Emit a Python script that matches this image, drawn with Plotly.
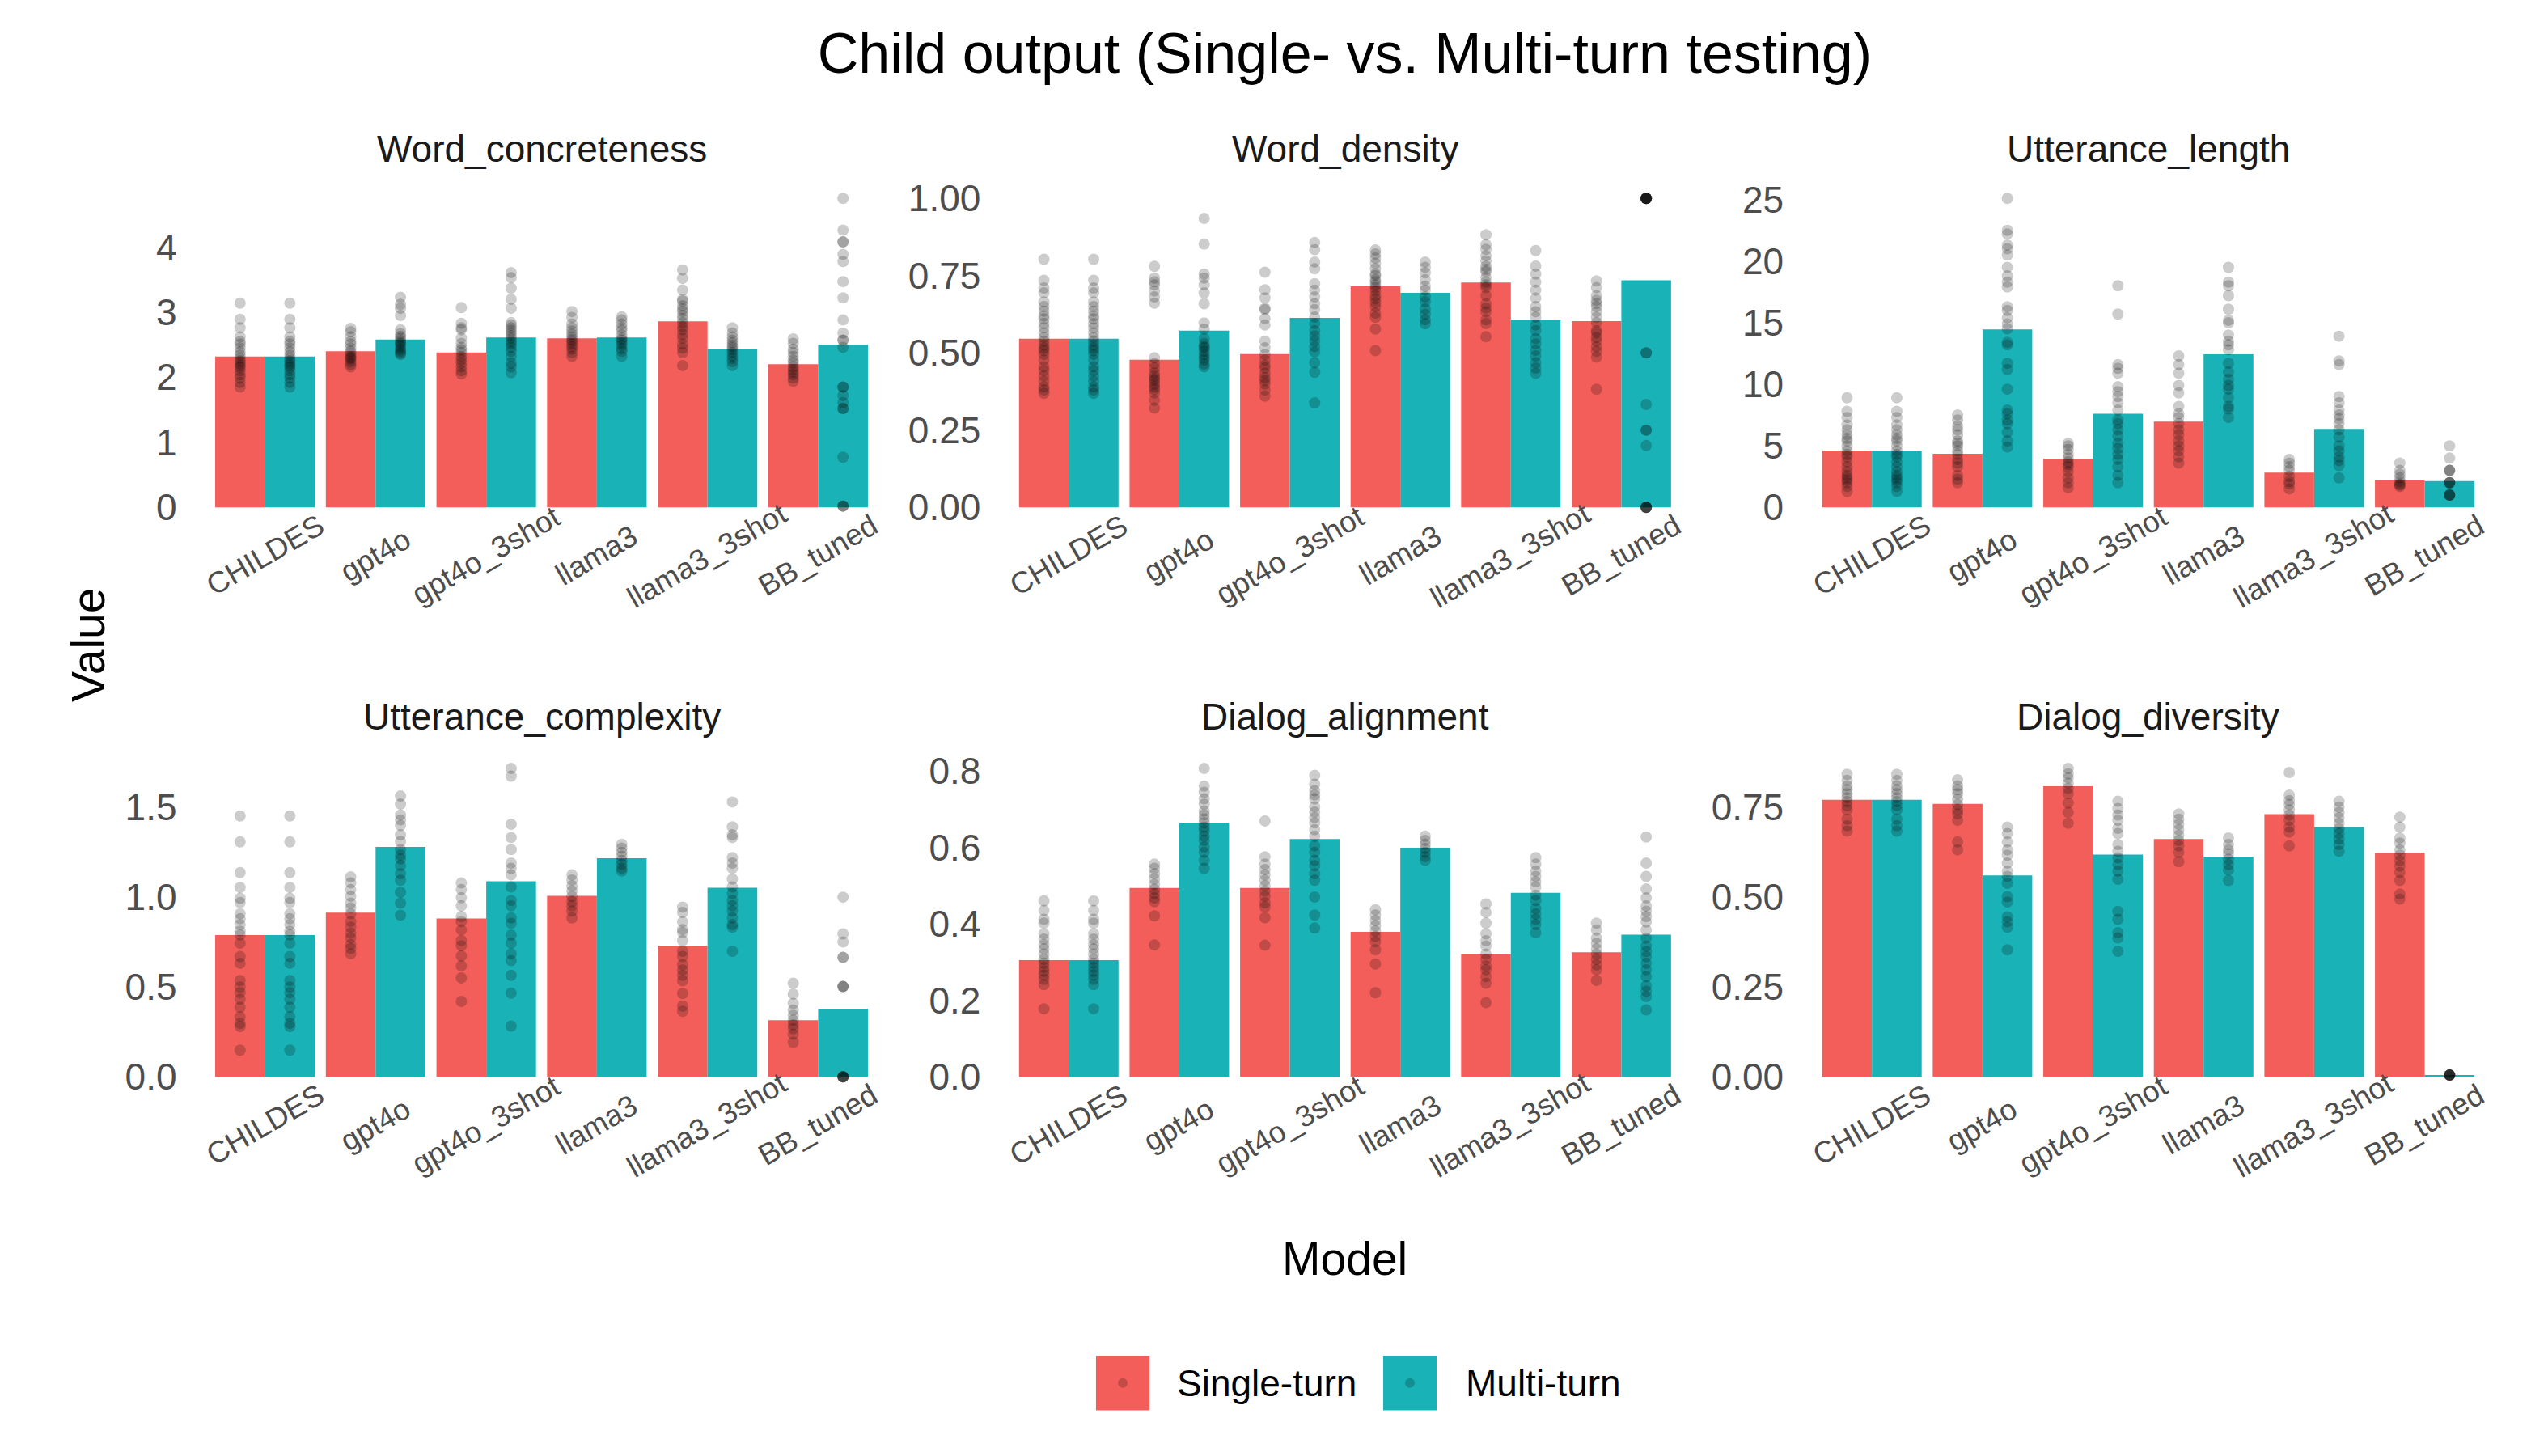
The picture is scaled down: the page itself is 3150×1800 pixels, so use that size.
import plotly.graph_objects as go

###############################################################################
# Data
###############################################################################
models = ["CHILDES", "gpt4o", "gpt4o_3shot", "llama3", "llama3_3shot", "BB_tuned"]
metrics = ["Word_concreteness", "Word_density", "Utterance_length",
           "Utterance_complexity", "Dialog_alignment", "Dialog_diversity"]
conditions = ["Single-turn", "Multi-turn"]

# bar heights (means), one value per model
wc_single = [2.32, 2.40, 2.38, 2.60, 2.86, 2.20]
wc_multi = [2.32, 2.58, 2.61, 2.61, 2.43, 2.50]
wd_single = [0.546, 0.478, 0.496, 0.715, 0.728, 0.603]
wd_multi = [0.546, 0.572, 0.613, 0.694, 0.608, 0.735]
ul_single = [4.61, 4.35, 3.96, 6.96, 2.83, 2.20]
ul_multi = [4.61, 14.46, 7.61, 12.43, 6.37, 2.13]
uc_single = [0.789, 0.914, 0.882, 1.007, 0.731, 0.315]
uc_multi = [0.789, 1.28, 1.088, 1.217, 1.052, 0.378]
da_single = [0.305, 0.494, 0.494, 0.379, 0.32, 0.326]
da_multi = [0.305, 0.664, 0.622, 0.599, 0.481, 0.372]
dd_single = [0.77, 0.759, 0.808, 0.661, 0.73, 0.623]
dd_multi = [0.77, 0.56, 0.618, 0.612, 0.694, 0.005]

# individual observations, one list per model
wc_single_pts = [
    [3.14, 2.89, 2.76, 2.62, 2.55, 2.51, 2.45, 2.39, 2.34, 2.29, 2.25, 2.21, 2.18, 2.15, 2.10, 2.04, 1.99, 1.92, 1.85],
    [2.75, 2.70, 2.62, 2.55, 2.51, 2.45, 2.40, 2.36, 2.32, 2.30, 2.28, 2.24, 2.20, 2.16],
    [3.07, 2.83, 2.76, 2.73, 2.60, 2.52, 2.46, 2.42, 2.38, 2.32, 2.27, 2.22, 2.16, 2.10, 2.05],
    [3.01, 2.92, 2.82, 2.76, 2.71, 2.66, 2.62, 2.58, 2.55, 2.51, 2.47, 2.43, 2.38, 2.32],
    [3.65, 3.52, 3.34, 3.20, 3.17, 3.10, 3.05, 3.01, 2.95, 2.90, 2.84, 2.78, 2.73, 2.66, 2.60, 2.51, 2.45, 2.38, 2.18],
    [2.59, 2.52, 2.43, 2.38, 2.32, 2.26, 2.22, 2.16, 2.12, 2.08, 2.04, 1.99, 1.94],
]
wc_multi_pts = [
    [3.14, 2.89, 2.76, 2.62, 2.55, 2.51, 2.45, 2.39, 2.34, 2.29, 2.25, 2.21, 2.18, 2.15, 2.10, 2.04, 1.99, 1.92, 1.85],
    [3.23, 3.12, 3.06, 2.95, 2.73, 2.67, 2.63, 2.60, 2.56, 2.53, 2.51, 2.47, 2.43, 2.40, 2.37, 2.35],
    [3.61, 3.53, 3.37, 3.20, 3.06, 2.84, 2.80, 2.76, 2.72, 2.68, 2.64, 2.60, 2.55, 2.51, 2.46, 2.40, 2.32, 2.22, 2.16, 2.07],
    [2.93, 2.88, 2.82, 2.76, 2.72, 2.65, 2.60, 2.57, 2.53, 2.49, 2.44, 2.40, 2.32],
    [2.76, 2.68, 2.62, 2.57, 2.53, 2.49, 2.46, 2.42, 2.38, 2.33, 2.29, 2.24, 2.18],
    [4.75, 4.26, 4.08, 4.08, 3.89, 3.78, 3.47, 3.22, 2.88, 2.68, 2.57, 2.57, 2.46, 1.85, 1.85, 1.72,
     1.61, 1.52, 1.52, 0.77, 0.02, 0.02, 0.02],
]
wd_single_pts = [
    [0.803, 0.735, 0.71, 0.694, 0.665, 0.65, 0.635, 0.62, 0.61, 0.595, 0.581, 0.565, 0.55, 0.538, 0.525,
     0.515, 0.507, 0.495, 0.477, 0.455, 0.442, 0.425, 0.408, 0.39, 0.38, 0.369],
    [0.78, 0.742, 0.73, 0.72, 0.70, 0.681, 0.661, 0.484, 0.465, 0.451, 0.435, 0.425, 0.416, 0.41, 0.399,
     0.39, 0.382, 0.37, 0.347, 0.321],
    [0.761, 0.704, 0.678, 0.644, 0.64, 0.611, 0.59, 0.538, 0.516, 0.495, 0.477, 0.46, 0.451, 0.434, 0.42,
     0.41, 0.399, 0.38, 0.36],
    [0.833, 0.82, 0.807, 0.79, 0.772, 0.755, 0.75, 0.737, 0.73, 0.72, 0.711, 0.70, 0.685, 0.675, 0.663,
     0.65, 0.629, 0.615, 0.577, 0.507],
    [0.882, 0.85, 0.835, 0.815, 0.798, 0.78, 0.77, 0.763, 0.745, 0.729, 0.72, 0.711, 0.685, 0.659, 0.645,
     0.633, 0.607, 0.595, 0.552],
    [0.733, 0.711, 0.685, 0.67, 0.66, 0.65, 0.633, 0.615, 0.598, 0.572, 0.565, 0.55, 0.538, 0.52, 0.505,
     0.486, 0.382],
]
wd_multi_pts = [
    [0.803, 0.735, 0.71, 0.694, 0.665, 0.65, 0.635, 0.62, 0.61, 0.595, 0.581, 0.565, 0.55, 0.538, 0.525,
     0.515, 0.507, 0.495, 0.477, 0.455, 0.442, 0.425, 0.408, 0.39, 0.38, 0.369],
    [0.935, 0.852, 0.755, 0.742, 0.72, 0.694, 0.659, 0.597, 0.577, 0.546, 0.53, 0.52, 0.516, 0.505, 0.494,
     0.485, 0.477, 0.464, 0.455],
    [0.857, 0.834, 0.794, 0.772, 0.724, 0.703, 0.681, 0.659, 0.64, 0.616, 0.595, 0.572, 0.555, 0.538, 0.52,
     0.503, 0.468, 0.437, 0.338],
    [0.794, 0.777, 0.759, 0.737, 0.716, 0.703, 0.681, 0.665, 0.642, 0.625, 0.607, 0.594],
    [0.831, 0.781, 0.755, 0.729, 0.703, 0.677, 0.65, 0.633, 0.616, 0.59, 0.572, 0.546, 0.529, 0.508, 0.49,
     0.468, 0.451, 0.434],
    [1.0, 1.0, 1.0, 1.0, 1.0, 1.0, 1.0, 1.0, 1.0, 1.0, 0.5, 0.5, 0.333, 0.25, 0.25, 0.2,
     0.0, 0.0, 0.0, 0.0, 0.0, 0.0],
]
ul_single_pts = [
    [8.9, 7.8, 7.3, 6.7, 6.3, 5.9, 5.6, 5.4, 5.0, 4.6, 4.3, 4.1, 3.7, 3.3, 2.9, 2.6, 2.4, 2.2, 2.0, 1.7, 1.3],
    [7.5, 7.1, 6.6, 6.3, 5.9, 5.4, 5.2, 5.0, 4.6, 4.3, 3.9, 3.6, 3.3, 2.6, 2.3, 2.0],
    [5.2, 5.0, 4.7, 4.3, 4.0, 3.7, 3.5, 3.3, 2.9, 2.4, 2.0, 1.6],
    [12.3, 11.6, 10.9, 9.9, 9.3, 8.2, 7.6, 7.3, 6.8, 6.3, 5.9, 5.4, 5.0, 4.6, 4.1, 3.6],
    [3.9, 3.6, 3.3, 3.0, 2.5, 2.1, 1.9, 1.5],
    [3.6, 3.0, 2.7, 2.4, 2.1, 1.9, 1.8, 1.7],
]
ul_multi_pts = [
    [8.9, 7.8, 7.3, 6.7, 6.3, 5.9, 5.6, 5.4, 5.0, 4.6, 4.3, 4.1, 3.7, 3.3, 2.9, 2.6, 2.4, 2.2, 2.0, 1.7, 1.3],
    [25.1, 22.5, 22.2, 21.3, 21.0, 20.5, 19.5, 18.8, 18.3, 17.9, 16.3, 16.0, 15.4, 14.9, 14.5, 13.4, 13.2,
     11.7, 11.2, 9.6, 7.9, 7.6, 7.1, 6.8, 6.1, 5.4, 4.9],
    [18.0, 15.7, 11.6, 11.3, 10.9, 9.8, 9.4, 9.0, 8.5, 7.9, 7.1, 6.8, 6.3, 5.8, 5.2, 4.8, 4.3, 3.9, 3.3,
     2.6, 2.0],
    [19.5, 18.3, 18.0, 17.2, 16.1, 15.2, 15.0, 14.0, 13.5, 13.2, 12.8, 11.7, 11.0, 10.4, 9.9, 9.6, 8.9,
     8.2, 8.0, 7.3],
    [13.9, 11.9, 11.6, 9.0, 8.5, 7.9, 7.5, 7.2, 6.8, 6.3, 5.7, 5.0, 4.6, 4.1, 3.8, 3.4, 2.4],
    [5.0, 4.0, 3.0, 3.0, 3.0, 2.0, 2.0, 2.0, 2.0, 1.0, 1.0, 1.0, 1.0],
]
uc_single_pts = [
    [1.452, 1.308, 1.137, 1.054, 0.994, 0.97, 0.908, 0.88, 0.848, 0.811, 0.79, 0.744, 0.67, 0.632, 0.536,
     0.5, 0.469, 0.432, 0.387, 0.335, 0.298, 0.28, 0.149],
    [1.113, 1.08, 1.042, 1.005, 0.967, 0.94, 0.908, 0.865, 0.833, 0.8, 0.774, 0.737, 0.715, 0.685],
    [1.079, 1.042, 0.997, 0.952, 0.893, 0.865, 0.818, 0.759, 0.73, 0.673, 0.618, 0.551, 0.42],
    [1.124, 1.095, 1.064, 1.035, 1.004, 0.975, 0.952, 0.923, 0.885],
    [0.945, 0.915, 0.863, 0.82, 0.804, 0.759, 0.699, 0.67, 0.625, 0.595, 0.565, 0.535, 0.464, 0.394, 0.365],
    [0.521, 0.461, 0.409, 0.372, 0.342, 0.315, 0.29, 0.268, 0.238, 0.193],
]
uc_multi_pts = [
    [1.452, 1.308, 1.137, 1.054, 0.994, 0.97, 0.908, 0.88, 0.848, 0.811, 0.79, 0.744, 0.67, 0.632, 0.536,
     0.5, 0.469, 0.432, 0.387, 0.335, 0.298, 0.28, 0.149],
    [1.563, 1.518, 1.458, 1.43, 1.399, 1.347, 1.31, 1.265, 1.235, 1.213, 1.176, 1.131, 1.094, 1.027, 0.967, 0.9],
    [1.716, 1.674, 1.406, 1.332, 1.265, 1.19, 1.16, 1.124, 1.057, 0.982, 0.952, 0.885, 0.855, 0.789, 0.744,
     0.685, 0.647, 0.565, 0.466, 0.283],
    [1.295, 1.273, 1.25, 1.228, 1.205, 1.183, 1.161, 1.146],
    [1.53, 1.391, 1.347, 1.332, 1.22, 1.19, 1.161, 1.101, 1.057, 1.02, 0.982, 0.952, 0.923, 0.885, 0.848,
     0.833, 0.699],
    [1.0, 0.796, 0.751, 0.665, 0.665, 0.503, 0.503, 0.503, 0.0, 0.0, 0.0, 0.0, 0.0, 0.0],
]
da_single_pts = [
    [0.46, 0.435, 0.412, 0.402, 0.374, 0.36, 0.346, 0.335, 0.321, 0.307, 0.297, 0.286, 0.276, 0.266, 0.255,
     0.241, 0.178],
    [0.556, 0.545, 0.531, 0.517, 0.503, 0.49, 0.479, 0.468, 0.458, 0.421, 0.345],
    [0.669, 0.575, 0.556, 0.542, 0.528, 0.514, 0.5, 0.486, 0.472, 0.455, 0.444, 0.416, 0.344],
    [0.437, 0.423, 0.409, 0.395, 0.381, 0.367, 0.353, 0.332, 0.295, 0.22],
    [0.452, 0.43, 0.402, 0.374, 0.356, 0.342, 0.321, 0.307, 0.29, 0.28, 0.262, 0.245, 0.194],
    [0.402, 0.384, 0.363, 0.349, 0.335, 0.321, 0.307, 0.293, 0.28, 0.252],
]
da_multi_pts = [
    [0.46, 0.435, 0.412, 0.402, 0.374, 0.36, 0.346, 0.335, 0.321, 0.307, 0.297, 0.286, 0.276, 0.266, 0.255,
     0.241, 0.178],
    [0.806, 0.76, 0.744, 0.727, 0.713, 0.695, 0.685, 0.674, 0.664, 0.653, 0.643, 0.629, 0.618, 0.601, 0.587,
     0.566, 0.545],
    [0.788, 0.765, 0.748, 0.737, 0.727, 0.706, 0.692, 0.678, 0.664, 0.646, 0.629, 0.604, 0.587, 0.566, 0.552,
     0.531, 0.514, 0.47, 0.423, 0.389],
    [0.629, 0.618, 0.608, 0.597, 0.587, 0.576, 0.566],
    [0.573, 0.556, 0.538, 0.524, 0.51, 0.496, 0.475, 0.461, 0.44, 0.426, 0.412, 0.398, 0.377],
    [0.627, 0.559, 0.524, 0.491, 0.468, 0.447, 0.433, 0.419, 0.405, 0.384, 0.363, 0.342, 0.328, 0.314, 0.297,
     0.28, 0.262, 0.238, 0.224, 0.21, 0.175],
]
dd_single_pts = [
    [0.841, 0.824, 0.809, 0.798, 0.787, 0.776, 0.765, 0.754, 0.742, 0.716, 0.698, 0.683],
    [0.826, 0.809, 0.798, 0.787, 0.772, 0.757, 0.742, 0.731, 0.713, 0.653, 0.631],
    [0.857, 0.842, 0.831, 0.816, 0.802, 0.787, 0.761, 0.735, 0.705],
    [0.731, 0.716, 0.702, 0.687, 0.672, 0.657, 0.642, 0.624, 0.598],
    [0.846, 0.783, 0.768, 0.757, 0.742, 0.728, 0.713, 0.694, 0.68, 0.642],
    [0.722, 0.694, 0.664, 0.65, 0.631, 0.616, 0.601, 0.586, 0.568, 0.546, 0.508, 0.494],
]
dd_multi_pts = [
    [0.841, 0.824, 0.809, 0.798, 0.787, 0.776, 0.765, 0.754, 0.742, 0.716, 0.698, 0.683],
    [0.694, 0.676, 0.653, 0.631, 0.616, 0.594, 0.572, 0.557, 0.538, 0.501, 0.486, 0.445, 0.431, 0.416, 0.353],
    [0.766, 0.746, 0.728, 0.713, 0.691, 0.676, 0.646, 0.627, 0.609, 0.59, 0.572, 0.549, 0.46, 0.438, 0.401,
     0.386, 0.349],
    [0.664, 0.646, 0.631, 0.62, 0.605, 0.59, 0.575, 0.546],
    [0.766, 0.75, 0.735, 0.72, 0.705, 0.69, 0.676, 0.661, 0.646, 0.627],
    [0.005, 0.005, 0.005, 0.005, 0.005, 0.005, 0.005, 0.005],
]

# y tick step and format per facet
tick_steps = [1, 0.25, 5, 0.5, 0.2, 0.25]
tick_formats = [".0f", ".2f", ".0f", ".1f", ".1f", ".2f"]

###############################################################################
# Plot
###############################################################################
panels = [
    (wc_single, wc_multi, wc_single_pts, wc_multi_pts),
    (wd_single, wd_multi, wd_single_pts, wd_multi_pts),
    (ul_single, ul_multi, ul_single_pts, ul_multi_pts),
    (uc_single, uc_multi, uc_single_pts, uc_multi_pts),
    (da_single, da_multi, da_single_pts, da_multi_pts),
    (dd_single, dd_multi, dd_single_pts, dd_multi_pts),
]

colors = ["#F35E5A", "#19B2B6"]
font_family = "Liberation Sans, Arial, sans-serif"
bar_w = 0.45
col_domains = [[0.0754, 0.3446], [0.3909, 0.6598], [0.7061, 0.9751]]
row_domains = [[0.6465, 0.8818], [0.2523, 0.4871]]
facet_title_y = [0.9056, 0.5122]
tick_label_y = [0.6239, 0.2296]

fig = go.Figure()
layout_axes = {}
annotations = []

for k, (s_bar, m_bar, s_pts, m_pts) in enumerate(panels):
    row, col = divmod(k, 3)
    suffix = "" if k == 0 else str(k + 1)
    xref, yref = "x" + suffix, "y" + suffix

    for c, (bars, pts, off) in enumerate([(s_bar, s_pts, -bar_w), (m_bar, m_pts, 0.0)]):
        fig.add_trace(go.Bar(
            x=list(range(len(models))), y=bars, width=bar_w, offset=off,
            marker=dict(color=colors[c], line=dict(width=0)),
            name=conditions[c], showlegend=False,
            xaxis=xref, yaxis=yref
        ))
        xs = [i + off + bar_w / 2 for i, grp in enumerate(pts) for _ in grp]
        ys = [v for grp in pts for v in grp]
        fig.add_trace(go.Scatter(
            x=xs, y=ys, mode="markers",
            marker=dict(color="rgba(0,0,0,0.2)", size=14, line=dict(width=0)),
            showlegend=False, hoverinfo="y",
            xaxis=xref, yaxis=yref
        ))

    ymax = max(max(s_bar), max(m_bar),
               max(max(g) for g in s_pts), max(max(g) for g in m_pts))
    layout_axes["xaxis" + suffix] = dict(
        domain=col_domains[col], anchor=yref, range=[-0.6, len(models) - 0.4],
        showticklabels=False, showgrid=False, zeroline=False, showline=False, ticks=""
    )
    layout_axes["yaxis" + suffix] = dict(
        domain=row_domains[row], anchor=xref, range=[-0.05 * ymax, 1.05 * ymax],
        dtick=tick_steps[k], tick0=0, tickformat=tick_formats[k],
        showgrid=False, zeroline=False, showline=False, ticks="",
        ticklabelstandoff=26,
        tickfont=dict(size=46, color="#4D4D4D", family=font_family)
    )

    # facet title
    annotations.append(dict(
        text=metrics[k], x=sum(col_domains[col]) / 2, y=facet_title_y[row],
        xref="paper", yref="paper", showarrow=False,
        xanchor="center", yanchor="middle",
        font=dict(size=46, color="#1A1A1A", family=font_family)
    ))
    # rotated category labels, centred under each group
    for i, m in enumerate(models):
        annotations.append(dict(
            text=m, x=i, y=tick_label_y[row], xref=xref, yref="paper",
            showarrow=False, textangle=-30, xanchor="center", yanchor="middle",
            font=dict(size=37, color="#4D4D4D", family=font_family)
        ))

# axis titles
annotations.append(dict(
    text="Model", x=0.5252, y=0.1373, xref="paper", yref="paper", showarrow=False,
    xanchor="center", yanchor="middle", font=dict(size=57, color="black", family=font_family)
))
annotations.append(dict(
    text="Value", x=0.032, y=0.562, xref="paper", yref="paper", showarrow=False,
    textangle=-90, xanchor="center", yanchor="middle",
    font=dict(size=57, color="black", family=font_family)
))

# legend drawn as keys + labels (ggplot-sized keys)
legend_keys = [(0.4276, 0.4486, 0.4587), (0.5403, 0.5613, 0.5721)]
shapes = []
for c, (x0, x1, xt) in enumerate(legend_keys):
    shapes.append(dict(type="rect", xref="paper", yref="paper", x0=x0, x1=x1,
                       y0=0.0322, y1=0.0700, fillcolor=colors[c], line=dict(width=0)))
    xc = (x0 + x1) / 2
    shapes.append(dict(type="circle", xref="paper", yref="paper",
                       x0=xc - 6 / 3150, x1=xc + 6 / 3150, y0=0.0511 - 6 / 1800, y1=0.0511 + 6 / 1800,
                       fillcolor="rgba(0,0,0,0.2)", line=dict(width=0)))
    annotations.append(dict(
        text=conditions[c], x=xt, y=0.0511, xref="paper", yref="paper", showarrow=False,
        xanchor="left", yanchor="middle", font=dict(size=46, color="black", family=font_family)
    ))

fig.update_layout(
    width=3150, height=1800,
    margin=dict(l=0, r=0, t=0, b=0),
    paper_bgcolor="white", plot_bgcolor="white",
    font=dict(family=font_family),
    title=dict(text="Child output (Single- vs. Multi-turn testing)", x=0.5252, y=0.968,
               xanchor="center", yanchor="middle", font=dict(size=70, color="black", family=font_family)),
    showlegend=False,
    annotations=annotations,
    shapes=shapes,
    **layout_axes
)

fig.write_html("out.html")
